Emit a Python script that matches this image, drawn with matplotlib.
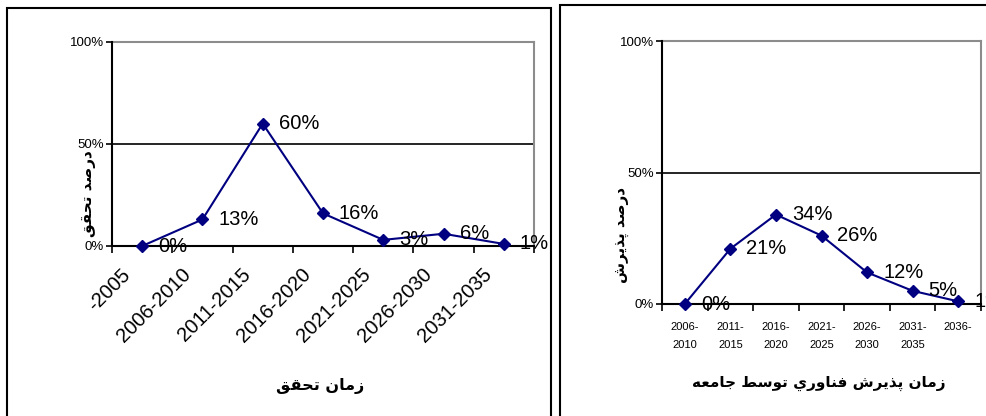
import matplotlib
matplotlib.use('Agg')
import matplotlib.pyplot as plt
from matplotlib.patches import Rectangle

plt.rcParams['font.family'] = ['Liberation Sans', 'DejaVu Sans']

#
# Realisation period (left chart).
#
real_periods = ['-2005', '2006-2010', '2011-2015', '2016-2020',
                '2021-2025', '2026-2030', '2031-2035']
real_share = [0, 13, 60, 16, 3, 6, 1]

#
# Adoption period (right chart).
#
adopt_periods = ['2006-\n2010', '2011-\n2015', '2016-\n2020', '2021-\n2025',
                 '2026-\n2030', '2031-\n2035', '2036-']
adopt_share = [0, 21, 34, 26, 12, 5, 1]

y_ticks = [0, 50, 100]
y_ticklabels = ['0%', '50%', '100%']

real_xlabel = 'زمان تحقق'
real_ylabel = 'درصد تحقق'
adopt_xlabel = 'زمان پذيرش فناوري توسط جامعه'
adopt_ylabel = 'درصد پذيرش'


#
# matplotlib does no Arabic shaping, so pick the presentation forms by hand
# (isolated, final, initial, medial) and lay the string out left to right.
#
FORMS = {
    'ا': ('\uFE8D', '\uFE8E', None, None),
    'ت': ('\uFE95', '\uFE96', '\uFE97', '\uFE98'),
    'ج': ('\uFE9D', '\uFE9E', '\uFE9F', '\uFEA0'),
    'ح': ('\uFEA1', '\uFEA2', '\uFEA3', '\uFEA4'),
    'د': ('\uFEA9', '\uFEAA', None, None),
    'ذ': ('\uFEAB', '\uFEAC', None, None),
    'ر': ('\uFEAD', '\uFEAE', None, None),
    'ز': ('\uFEAF', '\uFEB0', None, None),
    'س': ('\uFEB1', '\uFEB2', '\uFEB3', '\uFEB4'),
    'ش': ('\uFEB5', '\uFEB6', '\uFEB7', '\uFEB8'),
    'ص': ('\uFEB9', '\uFEBA', '\uFEBB', '\uFEBC'),
    'ط': ('\uFEC1', '\uFEC2', '\uFEC3', '\uFEC4'),
    'ع': ('\uFEC9', '\uFECA', '\uFECB', '\uFECC'),
    'ف': ('\uFED1', '\uFED2', '\uFED3', '\uFED4'),
    'ق': ('\uFED5', '\uFED6', '\uFED7', '\uFED8'),
    'م': ('\uFEE1', '\uFEE2', '\uFEE3', '\uFEE4'),
    'ن': ('\uFEE5', '\uFEE6', '\uFEE7', '\uFEE8'),
    'ه': ('\uFEE9', '\uFEEA', '\uFEEB', '\uFEEC'),
    'و': ('\uFEED', '\uFEEE', None, None),
    'ي': ('\uFEF1', '\uFEF2', '\uFEF3', '\uFEF4'),
    'پ': ('\uFB56', '\uFB57', '\uFB58', '\uFB59'),
}


def shape(text):
    out = []
    for i, c in enumerate(text):
        if c not in FORMS:
            out.append(c)
            continue
        iso, fin, ini, med = FORMS[c]
        prev = text[i - 1] if i > 0 else None
        nxt = text[i + 1] if i + 1 < len(text) else None
        join_prev = prev in FORMS and FORMS[prev][2] is not None
        join_next = nxt in FORMS and ini is not None
        if join_prev and join_next:
            out.append(med)
        elif join_prev:
            out.append(fin)
        elif join_next:
            out.append(ini)
        else:
            out.append(iso)
    return ''.join(out)[::-1]


W, H = 987, 416
fig = plt.figure(figsize=(W / 100, H / 100), dpi=100)
fig.patch.set_facecolor('white')

# panel frames
fig.add_artist(Rectangle((7.5 / W, -0.1), (551 - 7.5) / W, 1.1 - 7.5 / H,
                         transform=fig.transFigure, fill=False, lw=1.5, ec='black'))
fig.add_artist(Rectangle((560 / W, -0.1), 0.6, 1.1 - 5.5 / H,
                         transform=fig.transFigure, fill=False, lw=1.5, ec='black'))

ax1 = fig.add_axes([112 / W, (H - 246) / H, (534 - 112) / W, (246 - 42) / H])
ax2 = fig.add_axes([662 / W, (H - 304) / H, (981 - 662) / W, (304 - 41) / H])


def draw_panel(ax, labels, values, label_shift=0.0):
    x = list(range(len(values)))
    ax.plot(x, values, color='#000080', lw=1.5, marker='D', ms=6.5,
            mfc='#000080', mec='#000080', zorder=4, clip_on=False)
    for xi, v in zip(x, values):
        ax.annotate('{}%'.format(v), (xi, v), xytext=(11.5, 0),
                    textcoords='offset points', ha='left', va='center',
                    fontsize=14.5, zorder=5)
    ax.set_xlim(-0.5, len(values) - 0.5)
    ax.set_ylim(0, 100)
    ax.axhline(50, color='black', lw=1.2, zorder=1)
    ax.set_yticks(y_ticks, y_ticklabels, fontsize=9.5)
    ax.tick_params(axis='y', length=4, width=1.2, pad=2)
    # category boundaries carry the tick marks, labels sit between them
    ax.set_xticks([i - 0.5 for i in range(len(values) + 1)], minor=True)
    ax.set_xticks([xi + label_shift for xi in x], labels)
    ax.tick_params(axis='x', which='major', length=0)
    ax.tick_params(axis='x', which='minor', length=5, width=1.2, direction='out')
    for side in ['top', 'right']:
        ax.spines[side].set_color('#8c8c8c')
        ax.spines[side].set_linewidth(1.5)
    for side in ['left', 'bottom']:
        ax.spines[side].set_color('black')
        ax.spines[side].set_linewidth(1.5)
        ax.spines[side].set_zorder(3)


draw_panel(ax1, real_periods, real_share, label_shift=-0.25)
draw_panel(ax2, adopt_periods, adopt_share)

# left chart: slanted period labels
ax1.tick_params(axis='x', which='major', pad=18.5, labelsize=14.5)
for lab in ax1.get_xticklabels():
    lab.set_rotation(45)
    lab.set_ha('right')
    lab.set_va('center')
    lab.set_rotation_mode('anchor')

# right chart: two-line period labels
ax2.tick_params(axis='x', which='major', pad=13, labelsize=8)
for lab in ax2.get_xticklabels():
    lab.set_linespacing(1.95)

arabic = dict(family='DejaVu Sans', weight='bold', ha='center', va='center')
fig.text(320 / W, 1 - 386 / H, shape(real_xlabel), fontsize=11.5, **arabic)
fig.text(89 / W, 1 - 194 / H, shape(real_ylabel), fontsize=11, rotation=90, **arabic)
fig.text(819 / W, 1 - 383 / H, shape(adopt_xlabel), fontsize=11, **arabic)
fig.text(623 / W, 1 - 235 / H, shape(adopt_ylabel), fontsize=11, rotation=90, **arabic)

fig.savefig('out.png', dpi=100, facecolor='white')
